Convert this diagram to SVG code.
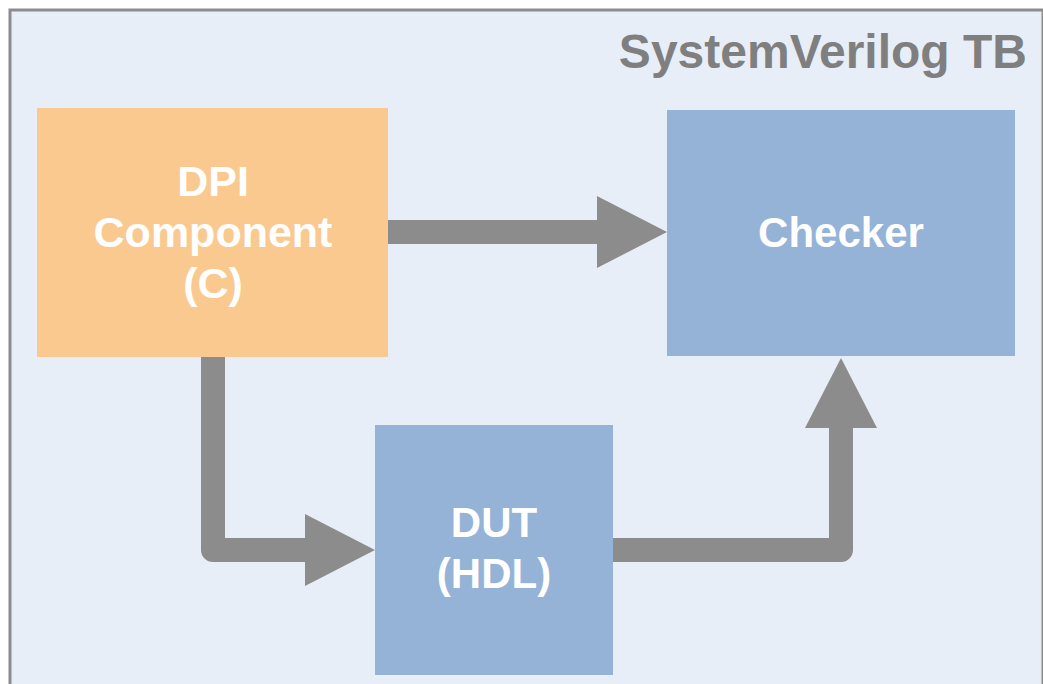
<svg xmlns="http://www.w3.org/2000/svg" width="1043" height="684" viewBox="0 0 1043 684">
  <style>
    .frame { fill: #e8eef7; stroke: #8c8c8c; stroke-width: 3; }
    .orange { fill: #fac98f; }
    .blue { fill: #95b3d7; }
    .lbl { font-family: "Liberation Sans", Arial, sans-serif; font-weight: bold; font-size: 42px; fill: #ffffff; text-anchor: middle; }
    .lbl43 { font-size: 43px; }
    .title { font-family: "Liberation Sans", Arial, sans-serif; font-weight: bold; font-size: 48px; fill: #7f7f7f; text-anchor: end; }
    .conn { fill: none; stroke: #8c8c8c; stroke-width: 24; stroke-linejoin: round; stroke-linecap: butt; }
  </style>
  <defs>
    <marker id="head" viewBox="0 0 70 72" refX="1" refY="36" markerWidth="70" markerHeight="72" markerUnits="userSpaceOnUse" orient="auto">
      <path d="M0,0 L70,36 L0,72 Z" fill="#8c8c8c"/>
    </marker>
  </defs>

  <g id="frame">
    <rect class="frame" x="10" y="10" width="1033" height="700"/>
    <text class="title" x="1027" y="68">SystemVerilog TB</text>
  </g>

  <g id="connectors">
    <path class="conn" d="M388,232 H598" marker-end="url(#head)"/>
    <path class="conn" d="M213,357 V550 H306" marker-end="url(#head)"/>
    <path class="conn" d="M613,550 H841 V427" marker-end="url(#head)"/>
  </g>

  <g id="dpi">
    <rect class="orange" x="37" y="108" width="351" height="249"/>
    <text class="lbl lbl43" x="213" y="196">DPI</text>
    <text class="lbl lbl43" x="213" y="247">Component</text>
    <text class="lbl lbl43" x="213" y="298">(C)</text>
  </g>

  <g id="checker">
    <rect class="blue" x="667" y="110" width="348" height="246"/>
    <text class="lbl" x="841" y="247">Checker</text>
  </g>

  <g id="dut">
    <rect class="blue" x="375" y="425" width="238" height="250"/>
    <text class="lbl" x="494" y="537">DUT</text>
    <text class="lbl" x="494" y="588">(HDL)</text>
  </g>
</svg>
